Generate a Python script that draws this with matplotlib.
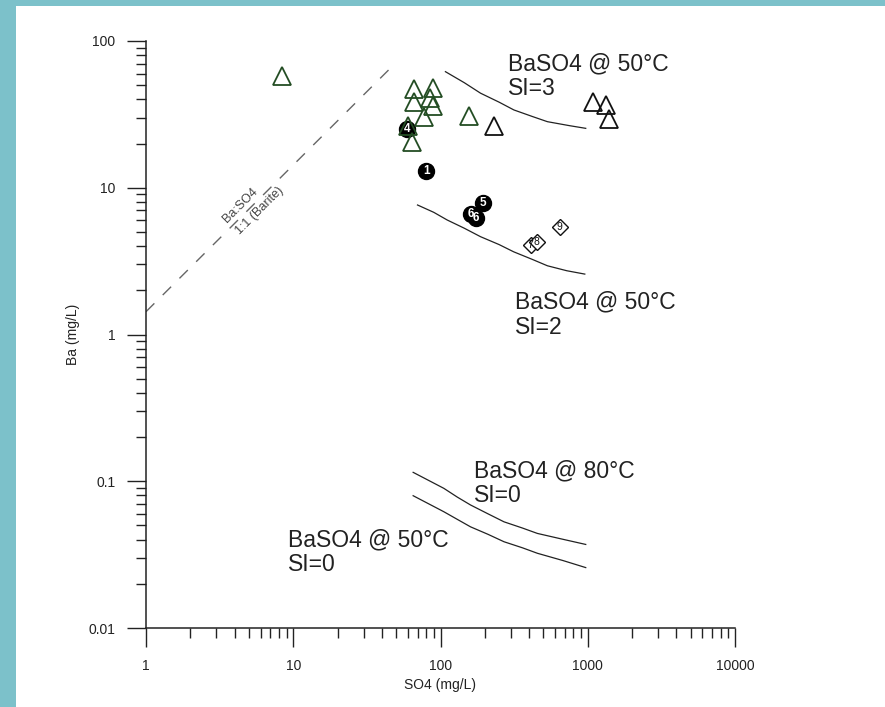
import numpy as np
import matplotlib
matplotlib.use("Agg")
import matplotlib.pyplot as plt
from matplotlib.patches import Rectangle
from matplotlib.ticker import FixedLocator, FixedFormatter, LogLocator, NullFormatter

plt.rcParams['font.family'] = ['Liberation Sans', 'DejaVu Sans']

# ---------------- data ----------------
tri_green_so4 = [8.4, 65.8, 88.7, 65.8, 85.5, 88.7, 77.0, 64.2, 59.7, 156]
tri_green_ba = [58, 46.9, 47.6, 38.5, 40.7, 36.1, 30.5, 20.6, 26.4, 30.7]
tri_black_so4 = [232, 1092, 1325, 1399]
tri_black_ba = [26.2, 38.7, 36.9, 29.2]

circle_so4 = [80.3, 59.3, 194.5, 160, 175]
circle_ba = [13.1, 25.1, 7.9, 6.62, 6.19]
circle_labels = ["1", "4", "5", "6", "6"]

diamond_so4 = [410, 450, 645]
diamond_ba = [4.07, 4.24, 5.38]
diamond_labels = ["7", "8", "9"]

si3_so4 = [108, 145, 187, 250, 315, 420, 532, 750, 969]
si3_ba = [61.8, 52.0, 44.1, 38.3, 33.9, 30.6, 28.2, 26.5, 25.4]
si2_so4 = [69.8, 90, 111, 145, 187, 250, 314, 420, 532, 720, 955]
si2_ba = [7.63, 6.8, 6.03, 5.3, 4.64, 4.1, 3.66, 3.25, 2.94, 2.72, 2.58]
si0_80_so4 = [65.2, 105.3, 130, 160, 210, 270, 360, 455, 680, 969]
si0_80_ba = [0.115, 0.0895, 0.078, 0.0689, 0.060, 0.0529, 0.048, 0.0441, 0.0402, 0.0371]
si0_50_so4 = [65.2, 105.3, 130, 160, 210, 270, 360, 455, 680, 969]
si0_50_ba = [0.0797, 0.0620, 0.055, 0.0489, 0.0435, 0.0387, 0.0352, 0.0323, 0.0288, 0.0258]

barite_so4 = [1, 49.4]
barite_ba = [1.43, 70.6]

x_ticks = [1, 10, 100, 1000, 10000]
x_ticklabels = ["1", "10", "100", "1000", "10000"]
y_ticks = [0.01, 0.1, 1, 10, 100]
y_ticklabels = ["0.01", "0.1", "1", "10", "100"]

# ---------------- figure ----------------
W, H = 885, 707
fig = plt.figure(figsize=(W / 100, H / 100), dpi=100)
fig.patch.set_facecolor('#7cc1ca')
fig.patches.append(Rectangle((16 / W, 0), 1 - 16 / W, 1 - 6 / H,
                             transform=fig.transFigure, facecolor='white',
                             edgecolor='none', zorder=-10))

ax = fig.add_axes([146 / W, (H - 628) / H, (735 - 146) / W, (628 - 41) / H])
ax.set_zorder(1)
ax.set_facecolor('none')
ax.set_xscale('log')
ax.set_yscale('log')
ax.set_xlim(1, 10000)
ax.set_ylim(0.01, 100)

for s in ['top', 'right']:
    ax.spines[s].set_visible(False)
for s in ['left', 'bottom']:
    ax.spines[s].set_linewidth(1.1)
    ax.spines[s].set_color('#222222')

ax.xaxis.set_major_locator(FixedLocator(x_ticks))
ax.xaxis.set_major_formatter(FixedFormatter(x_ticklabels))
ax.yaxis.set_major_locator(FixedLocator(y_ticks))
ax.yaxis.set_major_formatter(FixedFormatter(y_ticklabels))
for axis in (ax.xaxis, ax.yaxis):
    axis.set_minor_locator(LogLocator(base=10, subs=np.arange(2, 10), numticks=20))
    axis.set_minor_formatter(NullFormatter())
ax.tick_params(which='major', direction='out', length=14, width=1.0,
               color='#222222', labelsize=10, labelcolor='#222222')
ax.tick_params(which='minor', direction='out', length=7, width=1.0, color='#222222')
ax.tick_params(axis='x', which='major', pad=8)
ax.tick_params(axis='y', which='major', pad=8)

ax.set_xlabel('SO4 (mg/L)', fontsize=10, color='#222222', labelpad=4)
ax.set_ylabel('Ba (mg/L)', fontsize=10, color='#222222', labelpad=6)

# saturation curves
curve_kw = dict(color='#222222', lw=0.9)
ax.plot(si3_so4, si3_ba, **curve_kw)
ax.plot(si2_so4, si2_ba, **curve_kw)
ax.plot(si0_80_so4, si0_80_ba, **curve_kw)
ax.plot(si0_50_so4, si0_50_ba, **curve_kw)

# barite 1:1 line
ax.plot(barite_so4, barite_ba, color='#666666', lw=1.0, dashes=(8.5, 8.5))

ax.annotate('Ba:SO4', xy=(4.8, 4.8 * 1.43), xytext=(-4.5, 4.5),
            textcoords='offset points', rotation=45, rotation_mode='anchor',
            ha='center', va='center', fontsize=9, color='#444444')
ax.annotate('1:1 (Barite)', xy=(5.35, 5.35 * 1.43), xytext=(4.5, -4.5),
            textcoords='offset points', rotation=45, rotation_mode='anchor',
            ha='center', va='center', fontsize=9, color='#444444')

# numbered circles
for x, y, lab in zip(circle_so4, circle_ba, circle_labels):
    ax.plot([x], [y], linestyle='none', marker='o', ms=11.5, mfc='black',
            mec='black', zorder=3)
    ax.text(x, y, lab, ha='center', va='center', fontsize=8.5,
            fontweight='bold', color='white', zorder=3.5)

# triangles (drawn over the circles, as in the original)
ax.plot(tri_green_so4, tri_green_ba, linestyle='none', marker='^', ms=13.5,
        mfc='none', mec='#234d23', mew=1.3, zorder=4)
ax.plot(tri_black_so4, tri_black_ba, linestyle='none', marker='^', ms=13.5,
        mfc='none', mec='#111111', mew=1.3, zorder=4)

# numbered diamonds
for x, y, lab in zip(diamond_so4, diamond_ba, diamond_labels):
    ax.plot([x], [y], linestyle='none', marker='D', ms=8.5, mfc='white',
            mec='#111111', mew=1.0, zorder=4)
    ax.text(x, y, lab, ha='center', va='center', fontsize=7.5,
            color='#111111', zorder=5)

# annotations
txt_kw = dict(transform=ax.transAxes, fontsize=16.5, color='#222222',
              ha='left', va='top', linespacing=1.12)
ax.text(0.6146, 0.981, 'BaSO4 @ 50°C\nSI=3', **txt_kw)
ax.text(0.626, 0.575, 'BaSO4 @ 50°C\nSI=2', **txt_kw)
ax.text(0.557, 0.288, 'BaSO4 @ 80°C\nSI=0', **txt_kw)
ax.text(0.2416, 0.170, 'BaSO4 @ 50°C\nSI=0', **txt_kw)

fig.savefig('out.png', dpi=100, facecolor=fig.get_facecolor())
